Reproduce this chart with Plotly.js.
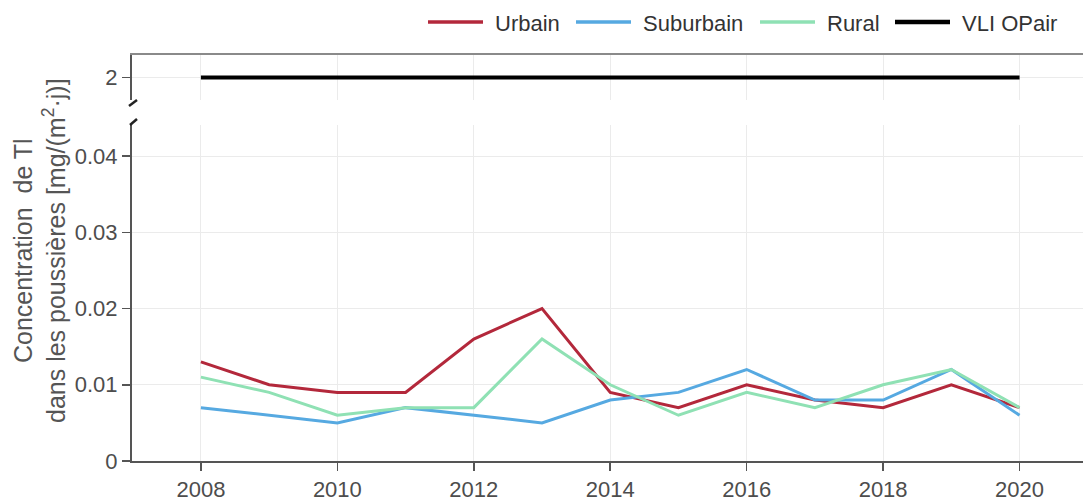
<!DOCTYPE html>
<html>
<head>
<meta charset="utf-8">
<script src="https://cdn.plot.ly/plotly-3.0.1.min.js"></script>
<style>html,body{margin:0;padding:0;background:#fff;}#chart{width:1083px;height:502px;}</style>
</head>
<body>
<div id="chart"></div>
<script>
// ---- data ----
const years = [2008, 2009, 2010, 2011, 2012, 2013, 2014, 2015, 2016, 2017, 2018, 2019, 2020];
const urbain    = [0.013, 0.010, 0.009, 0.009, 0.016, 0.020, 0.009, 0.007, 0.010, 0.008, 0.007, 0.010, 0.007];
const suburbain = [0.007, 0.006, 0.005, 0.007, 0.006, 0.005, 0.008, 0.009, 0.012, 0.008, 0.008, 0.012, 0.006];
const rural     = [0.011, 0.009, 0.006, 0.007, 0.007, 0.016, 0.010, 0.006, 0.009, 0.007, 0.010, 0.012, 0.007];
const vliYears  = [2008, 2020];
const vli       = [2, 2];
const seriesNames = ['Urbain', 'Suburbain', 'Rural', 'VLI OPair'];
const xTicks = [2008, 2010, 2012, 2014, 2016, 2018, 2020];
const yTicks = [0, 0.01, 0.02, 0.03, 0.04];
const yTickText = ['0', '0.01', '0.02', '0.03', '0.04'];
const y2Ticks = [2];
const yTitle = 'Concentration  de Tl<br>dans les poussières [mg/(m<sup>2</sup>·j)]';

// ---- style ----
const FONT = 'Liberation Sans, Arial, sans-serif';
const AX = '#555555';
const GRID = '#ebebeb';
const TICKF = {family: FONT, size: 22, color: '#4d4d4d'};
const colors = ['#b3283b', '#56a9e1', '#8fe1b4', '#000000'];
const widths = [3, 3, 3, 4];

// plot-area geometry (pixels) used to place decorations in paper coords
const M = {l: 132, r: 0, t: 55, b: 41};
const PW = 1083 - M.l - M.r, PH = 502 - M.t - M.b;
const px = v => (v - M.l) / PW;
const py = v => (502 - M.b - v) / PH;

const traces = [
  {x: years, y: urbain, name: seriesNames[0], mode: 'lines', xaxis: 'x', yaxis: 'y',
   line: {color: colors[0], width: widths[0]}},
  {x: years, y: suburbain, name: seriesNames[1], mode: 'lines', xaxis: 'x', yaxis: 'y',
   line: {color: colors[1], width: widths[1]}},
  {x: years, y: rural, name: seriesNames[2], mode: 'lines', xaxis: 'x', yaxis: 'y',
   line: {color: colors[2], width: widths[2]}},
  {x: vliYears, y: vli, name: seriesNames[3], mode: 'lines', xaxis: 'x2', yaxis: 'y2',
   line: {color: colors[3], width: widths[3]}}
];

// legend drawn as layout decorations (line sample + label), positions in pixels
const legendStarts = [428, 576, 760, 895];
const legendY = 22;
const shapes = [
  {type: 'line', xref: 'paper', yref: 'paper', x0: px(129), x1: px(137), y0: py(106), y1: py(100),
   line: {color: '#222', width: 2.5}},
  {type: 'line', xref: 'paper', yref: 'paper', x0: px(130), x1: px(137), y0: py(125), y1: py(119),
   line: {color: '#222', width: 2.5}}
];
const annotations = [
  {text: yTitle, xref: 'paper', yref: 'paper', x: px(39), y: py(251), xanchor: 'center', yanchor: 'middle',
   textangle: -90, showarrow: false, font: {family: FONT, size: 25, color: '#555555'}}
];
seriesNames.forEach((n, i) => {
  const s = legendStarts[i];
  shapes.push({type: 'line', xref: 'paper', yref: 'paper', x0: px(s), x1: px(s + 55),
               y0: py(legendY), y1: py(legendY), line: {color: colors[i], width: widths[i] + 0.5}});
  annotations.push({text: n, xref: 'paper', yref: 'paper', x: px(s + 65), y: py(legendY + 1),
                    xanchor: 'left', yanchor: 'middle', showarrow: false,
                    font: {family: FONT, size: 22, color: '#333333'}});
});

const xr = [2006.99, 2020.93];
const layout = {
  width: 1083, height: 502,
  margin: {l: M.l, r: M.r, t: M.t, b: M.b, pad: 0},
  paper_bgcolor: '#ffffff', plot_bgcolor: '#ffffff',
  font: {family: FONT, color: '#4d4d4d'},
  showlegend: false,
  xaxis: {domain: [0, 1], range: xr, anchor: 'y', tickmode: 'array', tickvals: xTicks,
          ticks: 'outside', ticklen: 8, tickwidth: 1.5, tickcolor: AX,
          showline: true, linecolor: AX, linewidth: 2, showgrid: true, gridcolor: GRID, gridwidth: 1,
          zeroline: false, tickfont: TICKF},
  yaxis: {domain: [0, 0.8276], range: [0, 0.04407], tickmode: 'array', tickvals: yTicks, ticktext: yTickText,
          ticks: 'outside', ticklen: 8, tickwidth: 1.5, tickcolor: AX,
          showline: true, linecolor: AX, linewidth: 2, showgrid: true, gridcolor: GRID, gridwidth: 1,
          zeroline: false, tickfont: TICKF, anchor: 'x'},
  xaxis2: {domain: [0, 1], range: xr, anchor: 'y2', matches: 'x', tickmode: 'array', tickvals: xTicks,
           showticklabels: false, ticks: '', side: 'top',
           showline: true, linecolor: '#8a8a8a', linewidth: 2, mirror: false,
           showgrid: true, gridcolor: GRID, gridwidth: 1, zeroline: false},
  yaxis2: {domain: [0.889, 1], range: [1.5, 2.5], tickmode: 'array', tickvals: y2Ticks,
           ticks: 'outside', ticklen: 8, tickwidth: 1.5, tickcolor: AX,
           showline: true, linecolor: AX, linewidth: 2, showgrid: true, gridcolor: GRID, gridwidth: 1,
           zeroline: false, tickfont: TICKF, anchor: 'x2'},
  shapes: shapes,
  annotations: annotations
};

Plotly.newPlot('chart', traces, layout, {displayModeBar: false, staticPlot: true});
</script>
</body>
</html>
